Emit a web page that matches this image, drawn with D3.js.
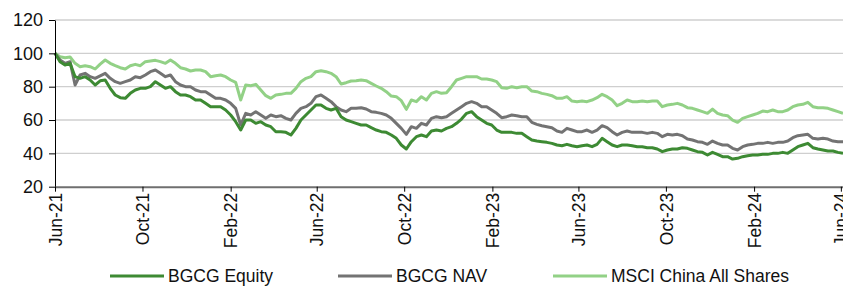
<!DOCTYPE html>
<html>
<head>
<meta charset="utf-8">
<script src="https://cdn.jsdelivr.net/npm/d3@7"></script>
<style>
  body { margin: 0; background: #fff; }
  svg text { font-family: "Liberation Sans", Arial, sans-serif; fill: #111; }
</style>
</head>
<body>
<svg id="chart"></svg>
<script>
// weekly points, rebased to 100 at start of June 2021
const startDate = new Date(2021, 5, 1);

const bgcgEquity = [
  100, 95, 93, 94, 86, 85, 86, 84, 81, 83.5, 84, 79, 75, 73.4, 73, 76, 78, 79, 79, 80, 83, 81, 79, 80, 77, 75, 75,
  74, 72, 72, 70, 68, 68, 68, 66, 63, 59, 54, 60, 60, 58, 59, 57, 56, 53, 53, 52.6, 51, 55, 60, 63, 66, 69,
  69, 67, 66, 67, 62, 60, 59, 58, 57, 57, 55.4, 54, 53, 52.6, 51, 49, 45, 42.6, 47, 50, 51, 50, 53.4, 54, 53.4, 55,
  56, 58, 60.6, 64, 65, 62, 60, 58, 57, 54, 52.6, 52.6, 52.6, 52, 52, 50, 48, 47.4, 47, 46.6, 46, 45, 44.6, 45.4, 44.6, 44,
  44.6, 45, 44, 45.4, 49, 47, 45, 44, 45, 45, 44.6, 44, 44, 43.4, 43.4, 42.6, 41, 42, 42.6, 42.6, 43.4, 43, 42, 41, 40.6, 39,
  40.6, 39.4, 38, 38, 36.6, 37, 38, 38.6, 39, 39, 39.4, 39.4, 40, 40, 40.6, 40, 42, 44, 45, 46, 43.4, 42.6, 42, 41.4, 41.4, 40.6, 40
];

const bgcgNav = [
  100, 96, 94, 95, 81, 87, 88, 86, 85, 86.5, 88, 85, 83, 82, 83, 84, 86, 85.4, 87, 89, 90, 88, 86, 87, 83, 81, 80,
  80, 78, 77, 77, 75, 73, 73, 72, 70, 67, 57, 64, 63, 65, 63, 61, 63, 62, 62.6, 61, 60, 64, 67, 68, 70, 74,
  75, 73, 71, 68, 66, 65, 67, 67, 67.4, 66.6, 65, 64.6, 64, 63, 61, 58, 55, 51.4, 56, 55, 58, 57, 61, 62, 61.4, 62,
  64, 66, 68, 70, 71, 70, 68, 68, 66, 64, 61.4, 62, 63, 62.6, 62, 62, 58.6, 57.4, 56.6, 56, 55.4, 53.4, 52.6, 55, 54, 53,
  53, 54, 52.6, 54, 56.6, 55.4, 53, 51, 52.6, 53.4, 52.6, 52.6, 52.6, 52, 52.6, 52, 50, 51.4, 51, 51.4, 50.6, 48.6, 48, 47, 46.6, 45.4,
  47.4, 46, 45, 45, 43, 42, 44, 45, 45.4, 46, 46, 46.6, 46, 46.6, 46.6, 47.4, 49.4, 50.6, 51, 51.4, 49, 48.6, 49, 48.6, 47.4, 47, 47
];

const msciChina = [
  100, 98, 97.4, 97.8, 94, 92, 92.6, 92, 90.6, 93.5, 96, 94, 92.6, 91.4, 90.6, 92.6, 93.4, 92.6, 95, 95.4, 95.8, 95, 94, 96, 94, 91.4, 90.6,
  89.4, 90, 90, 89, 86, 86.6, 87, 86, 84, 82.6, 72, 81, 80.6, 81.4, 78, 74.6, 73, 75, 75.4, 76, 76, 79, 83, 85, 86, 89,
  89.6, 89, 88, 86, 81.6, 82.4, 83.4, 83.6, 84, 83.6, 82, 80.4, 79, 77, 74.4, 74, 71.6, 66.4, 72, 71, 74, 72, 76, 77, 76, 76.4,
  80, 84, 85, 86, 86, 86, 84.6, 84.6, 84, 83, 79.4, 79, 80, 79.4, 80, 80, 77.4, 77, 76, 75.4, 74.6, 73, 73, 74, 71.4, 71,
  71.4, 71, 72, 73.4, 75.4, 74, 72, 68.6, 70, 72, 71, 71, 71.4, 71, 71.4, 71.4, 68, 69, 69.4, 70, 69, 67.4, 67, 66, 65, 64,
  66.6, 64, 63, 62.6, 60, 58.6, 61, 62, 63, 64, 65.4, 65, 66, 65, 65, 66, 68, 69, 69.4, 70.6, 68, 67.4, 67.4, 67, 66, 65, 64
];

const seriesNames = ["BGCG Equity", "BGCG NAV", "MSCI China All Shares"];
const seriesColors = ["#3d8a33", "#737373", "#92d186"];
const yTicks = [20, 40, 60, 80, 100, 120];
const xTickLabels = ["Jun-21", "Oct-21", "Feb-22", "Jun-22", "Oct-22", "Feb-23",
                     "Jun-23", "Oct-23", "Feb-24", "Jun-24"];

const width = 843, height = 286;
const plot = { left: 55, right: 843, top: 20, bottom: 186.7 };

const svg = d3.select("#chart")
    .attr("width", width)
    .attr("height", height);

const dates = bgcgEquity.map((_, i) => d3.timeDay.offset(startDate, 7 * i));
const parseTick = d3.timeParse("%b-%y");
const tickDates = xTickLabels.map(parseTick);

const xScale = d3.scaleTime()
    .domain([startDate, dates[dates.length - 1]])
    .range([plot.left, plot.right]);

const yScale = d3.scaleLinear()
    .domain([20, 120])
    .range([plot.bottom, plot.top]);

// gridlines
svg.append("g")
    .selectAll("line")
    .data(yTicks.filter(d => d > 20))
    .join("line")
    .attr("x1", plot.left)
    .attr("x2", plot.right)
    .attr("y1", d => yScale(d))
    .attr("y2", d => yScale(d))
    .attr("stroke", "#cfcfcf")
    .attr("stroke-width", 1.3);

// lines - MSCI first so it sits below the others
const seriesData = [bgcgEquity, bgcgNav, msciChina];
const lineGen = d3.line()
    .x((d, i) => xScale(dates[i]))
    .y(d => yScale(d));

[2, 1, 0].forEach(s => {
    svg.append("path")
        .datum(seriesData[s])
        .attr("fill", "none")
        .attr("stroke", seriesColors[s])
        .attr("stroke-width", 3)
        .attr("stroke-linejoin", "round")
        .attr("d", lineGen);
});

// y axis
const yAxisGroup = svg.append("g")
    .attr("transform", `translate(${plot.left},0)`)
    .call(d3.axisLeft(yScale).tickValues(yTicks).tickSize(6).tickSizeOuter(0).tickPadding(6));
yAxisGroup.select(".domain").attr("stroke", "#000");
yAxisGroup.selectAll(".tick line").attr("stroke", "#000");
yAxisGroup.selectAll("text").attr("font-size", 18);

// x axis
const xAxisGroup = svg.append("g")
    .attr("transform", `translate(0,${plot.bottom})`)
    .call(d3.axisBottom(xScale).tickValues(tickDates).tickSize(5).tickSizeOuter(0)
        .tickFormat(d3.timeFormat("%b-%y")));
xAxisGroup.select(".domain").attr("stroke", "#6f6f6f").attr("stroke-width", 2);
xAxisGroup.selectAll(".tick line").attr("stroke", "#000");
xAxisGroup.selectAll("text")
    .attr("font-size", 17.5)
    .attr("transform", "rotate(-90)")
    .attr("text-anchor", "end")
    .attr("x", -6)
    .attr("y", 0)
    .attr("dy", "0.35em");

// legend
const legendX = [110, 338, 553];
const legend = svg.append("g");
seriesNames.forEach((name, i) => {
    legend.append("line")
        .attr("x1", legendX[i])
        .attr("x2", legendX[i] + 54)
        .attr("y1", 276)
        .attr("y2", 276)
        .attr("stroke", seriesColors[i])
        .attr("stroke-width", 3);
    legend.append("text")
        .attr("x", legendX[i] + 58)
        .attr("y", 276)
        .attr("dy", "0.35em")
        .attr("font-size", 17.5)
        .text(name);
});
</script>
</body>
</html>
